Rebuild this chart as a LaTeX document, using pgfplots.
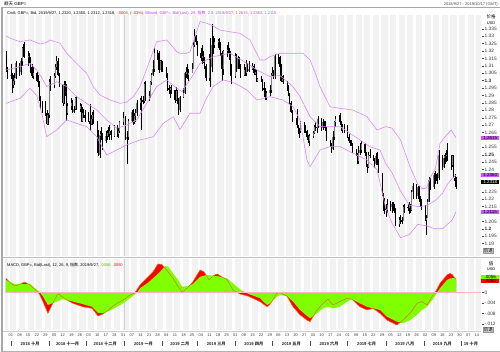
\documentclass[border=0pt]{standalone}
\usepackage{pgfplots}
\pgfplotsset{compat=1.18}
\usepackage{pgfplotstable}
\usepackage{fontspec}
\setmainfont{Liberation Sans}
\newfontfamily\cjk{Noto Sans CJK SC}
\definecolor{bband}{HTML}{D98CF5}
\definecolor{bbtext}{HTML}{C040F0}
\definecolor{stripe}{HTML}{F2F2F2}
\definecolor{mgreen}{HTML}{80FF00}
\definecolor{mline}{HTML}{D87010}
\definecolor{zline}{HTML}{FFB8B8}
\definecolor{pbox}{HTML}{CC55FF}
\definecolor{frame}{HTML}{A8A8A8}
\definecolor{mtext}{HTML}{55BB00}

\pgfplotstableread{
d o h l c
-4 1.3185 1.3200 1.3060 1.3075
-3 1.3075 1.3090 1.3010 1.3035
0 1.3035 1.3110 1.3010 1.3040
1 1.3040 1.3050 1.2920 1.2970
2 1.2970 1.3040 1.2950 1.3000
3 1.3000 1.3050 1.2970 1.3020
4 1.3020 1.3130 1.3010 1.3120
7 1.3120 1.3120 1.3030 1.3060
8 1.3060 1.3150 1.3040 1.3130
9 1.3130 1.3230 1.3100 1.3220
10 1.3220 1.3250 1.3160 1.3200
11 1.3200 1.3260 1.3150 1.3160
14 1.3160 1.3200 1.3100 1.3170
15 1.3170 1.3190 1.3110 1.3150
16 1.3150 1.3160 1.3050 1.3090
17 1.3090 1.3110 1.3020 1.3030
18 1.3030 1.3090 1.3010 1.3050
21 1.3050 1.3060 1.2990 1.3000
22 1.3000 1.3040 1.2960 1.2980
23 1.2980 1.3000 1.2860 1.2870
24 1.2870 1.2900 1.2810 1.2830
25 1.2830 1.2860 1.2780 1.2830
28 1.2830 1.2860 1.2760 1.2780
29 1.2780 1.2800 1.2700 1.2710
30 1.2710 1.2780 1.2700 1.2770
31 1.2770 1.3010 1.2750 1.2990
32 1.2990 1.3030 1.2930 1.2970
35 1.2970 1.3050 1.2950 1.3030
36 1.3030 1.3110 1.3020 1.3090
37 1.3090 1.3170 1.3070 1.3130
38 1.3130 1.3150 1.3030 1.3040
39 1.3040 1.3050 1.2960 1.2970
42 1.2970 1.2980 1.2830 1.2850
43 1.2850 1.3000 1.2840 1.2980
44 1.2980 1.3000 1.2900 1.2970
45 1.2970 1.2980 1.2730 1.2780
46 1.2780 1.2850 1.2770 1.2830
49 1.2830 1.2880 1.2800 1.2850
50 1.2850 1.2870 1.2780 1.2790
51 1.2790 1.2830 1.2780 1.2810
52 1.2810 1.2890 1.2800 1.2880
53 1.2880 1.2900 1.2800 1.2810
56 1.2810 1.2850 1.2790 1.2830
57 1.2830 1.2840 1.2720 1.2730
58 1.2730 1.2820 1.2720 1.2780
59 1.2780 1.2810 1.2750 1.2770
60 1.2770 1.2800 1.2720 1.2750
63 1.2750 1.2790 1.2720 1.2730
64 1.2730 1.2840 1.2660 1.2710
65 1.2710 1.2770 1.2700 1.2740
66 1.2740 1.2790 1.2700 1.2770
67 1.2770 1.2800 1.2710 1.2730
70 1.2730 1.2730 1.2510 1.2560
71 1.2560 1.2670 1.2490 1.2500
72 1.2500 1.2660 1.2480 1.2630
73 1.2630 1.2690 1.2600 1.2640
74 1.2640 1.2650 1.2530 1.2590
77 1.2590 1.2660 1.2580 1.2630
78 1.2630 1.2670 1.2600 1.2650
79 1.2650 1.2690 1.2620 1.2640
80 1.2640 1.2700 1.2600 1.2660
81 1.2660 1.2670 1.2600 1.2630
84 1.2630 1.2700 1.2620 1.2690
86 1.2690 1.2700 1.2620 1.2640
87 1.2640 1.2680 1.2610 1.2660
88 1.2660 1.2730 1.2650 1.2720
91 1.2720 1.2790 1.2700 1.2750
93 1.2750 1.2760 1.2600 1.2610
94 1.2610 1.2660 1.2440 1.2620
95 1.2620 1.2740 1.2600 1.2730
98 1.2730 1.2800 1.2720 1.2790
99 1.2790 1.2810 1.2700 1.2720
100 1.2720 1.2780 1.2710 1.2760
101 1.2760 1.2810 1.2720 1.2780
102 1.2780 1.2870 1.2760 1.2850
105 1.2850 1.2880 1.2800 1.2870
106 1.2870 1.2900 1.2670 1.2870
107 1.2870 1.2900 1.2840 1.2860
108 1.2860 1.2990 1.2850 1.2980
109 1.2980 1.3000 1.2860 1.2880
112 1.2880 1.2930 1.2860 1.2900
113 1.2900 1.3000 1.2880 1.2990
114 1.2990 1.3050 1.2970 1.3040
115 1.3040 1.3140 1.3030 1.3080
116 1.3080 1.3220 1.3060 1.3190
119 1.3190 1.3210 1.3140 1.3190
120 1.3190 1.3200 1.3050 1.3070
121 1.3070 1.3140 1.3070 1.3130
122 1.3130 1.3140 1.3060 1.3110
123 1.3110 1.3130 1.3060 1.3080
126 1.3080 1.3090 1.3020 1.3040
127 1.3040 1.3050 1.2930 1.2950
128 1.2950 1.2970 1.2910 1.2940
129 1.2940 1.2960 1.2880 1.2950
130 1.2950 1.2970 1.2910 1.2940
133 1.2940 1.2940 1.2850 1.2870
134 1.2870 1.2960 1.2860 1.2930
135 1.2930 1.2940 1.2840 1.2860
136 1.2860 1.2880 1.2770 1.2800
137 1.2800 1.2900 1.2790 1.2890
140 1.2890 1.2950 1.2880 1.2920
141 1.2920 1.3060 1.2910 1.3050
142 1.3050 1.3090 1.3020 1.3060
143 1.3060 1.3110 1.3010 1.3040
144 1.3040 1.3080 1.3000 1.3050
147 1.3050 1.3120 1.3050 1.3080
148 1.3080 1.3260 1.3080 1.3240
149 1.3240 1.3350 1.3230 1.3300
150 1.3300 1.3310 1.3240 1.3260
151 1.3260 1.3270 1.3170 1.3190
154 1.3190 1.3220 1.3130 1.3150
155 1.3150 1.3240 1.3110 1.3170
156 1.3170 1.3200 1.3120 1.3140
157 1.3140 1.3160 1.3080 1.3100
158 1.3100 1.3110 1.3000 1.3020
161 1.3020 1.3180 1.3000 1.3140
162 1.3140 1.3290 1.2960 1.3090
163 1.3090 1.3380 1.3060 1.3240
164 1.3240 1.3300 1.3180 1.3240
165 1.3240 1.3290 1.3220 1.3260
168 1.3260 1.3280 1.3220 1.3270
169 1.3270 1.3290 1.3210 1.3250
170 1.3250 1.3260 1.3170 1.3190
171 1.3190 1.3200 1.3000 1.3080
172 1.3080 1.3210 1.3040 1.3200
175 1.3200 1.3240 1.3160 1.3200
176 1.3200 1.3260 1.3190 1.3210
177 1.3210 1.3220 1.3140 1.3190
178 1.3190 1.3200 1.3030 1.3040
179 1.3040 1.3110 1.2980 1.3030
182 1.3030 1.3190 1.3020 1.3170
183 1.3170 1.3180 1.3060 1.3080
184 1.3080 1.3170 1.3080 1.3150
185 1.3150 1.3160 1.3080 1.3100
186 1.3100 1.3110 1.3020 1.3040
189 1.3040 1.3110 1.3030 1.3070
190 1.3070 1.3090 1.3030 1.3050
191 1.3050 1.3140 1.3030 1.3110
192 1.3110 1.3120 1.3060 1.3070
193 1.3070 1.3130 1.3060 1.3080
196 1.3080 1.3120 1.3070 1.3100
197 1.3100 1.3110 1.3040 1.3050
198 1.3050 1.3080 1.3040 1.3060
199 1.3060 1.3070 1.2990 1.3000
200 1.3000 1.3020 1.2990 1.3010
203 1.3010 1.3030 1.2990 1.3000
204 1.3000 1.3010 1.2930 1.2950
205 1.2950 1.2990 1.2920 1.2940
206 1.2940 1.2950 1.2870 1.2890
207 1.2890 1.2930 1.2870 1.2920
210 1.2920 1.2970 1.2900 1.2940
211 1.2940 1.3050 1.2920 1.3040
212 1.3040 1.3090 1.3030 1.3050
213 1.3050 1.3070 1.3010 1.3030
214 1.3030 1.3180 1.3010 1.3170
217 1.3170 1.3180 1.3110 1.3160
218 1.3160 1.3170 1.3080 1.3090
219 1.3090 1.3110 1.2990 1.3000
220 1.3000 1.3030 1.2990 1.3010
221 1.3010 1.3040 1.2980 1.3000
224 1.3000 1.3000 1.2930 1.2950
225 1.2950 1.2970 1.2900 1.2910
226 1.2910 1.2920 1.2840 1.2850
227 1.2850 1.2860 1.2780 1.2790
228 1.2790 1.2800 1.2720 1.2720
231 1.2720 1.2750 1.2700 1.2720
232 1.2720 1.2810 1.2680 1.2690
233 1.2690 1.2700 1.2640 1.2660
234 1.2660 1.2680 1.2610 1.2660
235 1.2660 1.2730 1.2650 1.2710
238 1.2710 1.2720 1.2650 1.2660
239 1.2660 1.2700 1.2650 1.2660
240 1.2660 1.2670 1.2600 1.2620
241 1.2620 1.2630 1.2580 1.2590
242 1.2590 1.2640 1.2560 1.2630
245 1.2630 1.2660 1.2610 1.2650
246 1.2650 1.2700 1.2640 1.2690
247 1.2690 1.2720 1.2660 1.2690
248 1.2690 1.2710 1.2650 1.2680
249 1.2680 1.2760 1.2680 1.2740
252 1.2740 1.2750 1.2660 1.2680
253 1.2680 1.2740 1.2670 1.2720
254 1.2720 1.2730 1.2680 1.2700
255 1.2700 1.2730 1.2660 1.2670
256 1.2670 1.2690 1.2590 1.2590
259 1.2590 1.2600 1.2550 1.2560
260 1.2560 1.2580 1.2510 1.2540
261 1.2540 1.2660 1.2530 1.2620
262 1.2620 1.2730 1.2600 1.2720
263 1.2720 1.2760 1.2690 1.2740
266 1.2740 1.2770 1.2720 1.2740
267 1.2740 1.2780 1.2700 1.2710
268 1.2710 1.2730 1.2660 1.2670
269 1.2670 1.2710 1.2650 1.2690
270 1.2690 1.2710 1.2650 1.2690
273 1.2690 1.2700 1.2610 1.2620
274 1.2620 1.2640 1.2580 1.2590
275 1.2590 1.2600 1.2560 1.2580
276 1.2580 1.2600 1.2560 1.2570
277 1.2570 1.2580 1.2510 1.2520
280 1.2520 1.2540 1.2490 1.2500
281 1.2500 1.2510 1.2440 1.2460
282 1.2460 1.2560 1.2440 1.2510
283 1.2510 1.2580 1.2500 1.2530
284 1.2530 1.2590 1.2510 1.2570
287 1.2570 1.2580 1.2490 1.2510
288 1.2510 1.2520 1.2420 1.2430
289 1.2430 1.2440 1.2380 1.2420
290 1.2420 1.2520 1.2410 1.2500
291 1.2500 1.2540 1.2480 1.2490
294 1.2490 1.2500 1.2460 1.2470
295 1.2470 1.2480 1.2410 1.2440
296 1.2440 1.2510 1.2430 1.2490
297 1.2490 1.2520 1.2430 1.2450
298 1.2450 1.2470 1.2380 1.2380
301 1.2380 1.2380 1.2220 1.2230
302 1.2230 1.2240 1.2120 1.2170
303 1.2170 1.2210 1.2100 1.2150
304 1.2150 1.2170 1.2080 1.2130
305 1.2130 1.2200 1.2110 1.2160
308 1.2160 1.2190 1.2120 1.2150
309 1.2150 1.2180 1.2110 1.2170
310 1.2170 1.2180 1.2120 1.2140
311 1.2140 1.2170 1.2110 1.2140
312 1.2140 1.2140 1.2020 1.2030
315 1.2030 1.2080 1.2010 1.2060
316 1.2060 1.2090 1.2030 1.2060
317 1.2060 1.2080 1.2030 1.2050
318 1.2050 1.2160 1.2050 1.2150
319 1.2150 1.2170 1.2110 1.2150
322 1.2150 1.2170 1.2120 1.2140
323 1.2140 1.2180 1.2100 1.2160
324 1.2160 1.2170 1.2110 1.2130
325 1.2130 1.2260 1.2120 1.2250
326 1.2250 1.2310 1.2200 1.2290
329 1.2290 1.2300 1.2200 1.2220
330 1.2220 1.2290 1.2200 1.2280
331 1.2280 1.2290 1.2180 1.2210
332 1.2210 1.2220 1.2150 1.2170
333 1.2170 1.2200 1.2130 1.2160
336 1.2160 1.2160 1.2050 1.2060
337 1.2060 1.2090 1.1960 1.2070
338 1.2070 1.2200 1.2070 1.2180
339 1.2180 1.2350 1.2180 1.2330
340 1.2330 1.2340 1.2260 1.2280
343 1.2280 1.2380 1.2270 1.2360
344 1.2360 1.2390 1.2300 1.2350
345 1.2350 1.2370 1.2320 1.2340
346 1.2340 1.2380 1.2300 1.2340
347 1.2340 1.2530 1.2330 1.2500
350 1.2500 1.2500 1.2400 1.2420
351 1.2420 1.2500 1.2410 1.2480
352 1.2480 1.2510 1.2440 1.2490
353 1.2490 1.2530 1.2450 1.2500
354 1.2500 1.2580 1.2460 1.2480
357 1.2480 1.2500 1.2400 1.2430
358 1.2430 1.2500 1.2420 1.2490
359 1.2490 1.2500 1.2340 1.2340
360 1.2340 1.2370 1.2280 1.2320
361 1.2320 1.2350 1.2270 1.2318
}\prices

\newcommand{\fs}[1]{\fontsize{#1}{#1}\selectfont}
\pgfplotsset{panel/.style={anchor=south west, at={(0,0)}, scale only axis,
  xmin=-4.81, xmax=381.27, xtick=\empty, ytick=\empty, axis line style={draw=none}, clip=true}}

\begin{document}
\begin{tikzpicture}[x=1pt,y=1pt]
\path[use as bounding box] (0,0) rectangle (500,352);
\fill[white] (0,0) rectangle (500,352);
\begin{scope}[shift={(0,352)},yscale=-1]
  \begin{scope}
    \clip (5,15) rectangle (481,256) (5,259) rectangle (481,330);
    \foreach \w in {-1,...,54}{
      \pgfmathsetmacro\xa{10.93+1.2329*(7*\w-0.5)}
      \pgfmathsetmacro\xb{10.93+1.2329*(7*\w+4.5)}
      \fill[stripe] (\xa,15) rectangle (\xb,330);
    }
  \end{scope}
  \draw[black!18, line width=0.5pt] (124.4,15) -- (124.4,256) (124.4,259) -- (124.4,330);
  \draw[frame, line width=1.5pt] (2,7) -- (2,352);
  \draw[frame, line width=0.8pt] (2,7.5) -- (500,7.5);
  \draw[black!25, line width=0.5pt] (3,257.5) -- (500,257.5);
  \draw[black!20, line width=0.5pt] (3,331) -- (481,331);
  \draw[black!30, line width=1pt] (3,351.5) -- (500,351.5);
\end{scope}

% ---------- price panel ----------
\begin{scope}[shift={(5,96)}]
\begin{axis}[panel, width=476pt, height=241pt, ymin=1.181634, ymax=1.344362]
  \addplot[draw=none, mark=none, error bars/.cd, y dir=both, y explicit, error mark=none,
    error bar style={draw=black, solid, line width=0.35pt}]
    table[x=d, y expr={(\thisrow{h}+\thisrow{l})/2}, y error expr={(\thisrow{h}-\thisrow{l})/2}] {\prices};
  \addplot[draw=none, mark=none, restrict expr to domain={\thisrow{c}-\thisrow{o}}{0:1},
    error bars/.cd, y dir=both, y explicit, error mark=none,
    error bar style={draw=black!50, solid, line width=0.9pt}]
    table[x=d, y expr={(\thisrow{o}+\thisrow{c})/2}, y error expr={abs(\thisrow{c}-\thisrow{o})/2}] {\prices};
  \addplot[draw=none, mark=none, restrict expr to domain={\thisrow{o}-\thisrow{c}}{0.00001:1},
    error bars/.cd, y dir=both, y explicit, error mark=none,
    error bar style={draw=black, solid, line width=0.9pt}]
    table[x=d, y expr={(\thisrow{o}+\thisrow{c})/2}, y error expr={abs(\thisrow{c}-\thisrow{o})/2}] {\prices};
  \addplot[bband, line width=0.6pt, mark=none] coordinates {
  (-4,1.3302) (0,1.3285) (7.4,1.3263) (15.5,1.3275) (23.6,1.3248) (29,1.3258) (31.7,1.3275)
  (39.8,1.3253) (45.2,1.3185) (53.3,1.3117) (61.4,1.3050) (66.8,1.2960) (72.3,1.2903)
  (80.4,1.2870) (88.5,1.2847) (93.9,1.2855) (99.3,1.2892) (104.7,1.2960) (108.8,1.3050)
  (112.8,1.3140) (118.2,1.3263) (126.4,1.3275) (134.5,1.3196) (137.1,1.3185) (142.6,1.3185)
  (145.2,1.3195) (149,1.3290) (153.4,1.3400) (159,1.3387) (164,1.3370) (169.6,1.3342)
  (177.7,1.3330) (185.8,1.3320) (193.9,1.3275) (202,1.3140) (206,1.3140) (210.1,1.3162)
  (218.2,1.3185) (228.8,1.3185) (236.9,1.3185) (242.6,1.3140) (246.5,1.3060) (250.7,1.2960)
  (258.8,1.2824) (266.9,1.2813) (277.4,1.2802) (288.8,1.2757) (296.9,1.2667) (304,1.2690)
  (309,1.2680) (316,1.2600) (323.7,1.2419) (330,1.2300) (334,1.2270) (337,1.2275)
  (341,1.2360) (344,1.2400) (346,1.2480) (348,1.2577) (352,1.2620) (357,1.2667) (361,1.2615)};
  \addplot[bband, line width=0.6pt, mark=none] coordinates {
  (-4,1.3072) (7.4,1.3095) (15.5,1.3117) (20.9,1.3072) (25,1.3020) (29,1.2960) (33,1.2975)
  (37.1,1.2993) (45.2,1.2960) (53.3,1.2892) (61.4,1.2847) (69.6,1.2802) (77.7,1.2735)
  (85.8,1.2679) (93.9,1.2700) (102,1.2735) (110.1,1.2847) (118.2,1.2960) (126.4,1.3005)
  (134.5,1.2949) (138.5,1.2926) (145.2,1.3005) (153.4,1.3117) (164,1.3162) (177.7,1.3185)
  (191.5,1.3117) (199.6,1.3072) (210.1,1.3027) (218.2,1.3035) (228.8,1.2960) (234.5,1.2892)
  (242.6,1.2757) (250.7,1.2690) (258.8,1.2690) (266.9,1.2690) (275,1.2645) (283.1,1.2600)
  (291.2,1.2554) (299.3,1.2532) (304,1.2440) (309,1.2380) (316,1.2256) (323,1.2160)
  (330,1.2150) (337,1.2155) (344,1.2190) (350,1.2240) (354,1.2300) (358,1.2340) (361,1.2363)};
  \addplot[bband, line width=0.6pt, mark=none] coordinates {
  (-4,1.2847) (7.4,1.2881) (15.5,1.2949) (20.9,1.2900) (25,1.2780) (29,1.2622) (37.1,1.2667)
  (45.2,1.2735) (53.3,1.2712) (61.4,1.2690) (69.6,1.2622) (77.7,1.2498) (85.8,1.2532)
  (93.9,1.2566) (104.7,1.2600) (110.1,1.2610) (115.5,1.2622) (123.6,1.2712) (131.7,1.2757)
  (137.1,1.2670) (145.2,1.2780) (153.4,1.2780) (158,1.2870) (164,1.2960) (172,1.3005)
  (180.1,1.2990) (191.5,1.2937) (199.6,1.2870) (210.1,1.2892) (220.6,1.2870) (228.8,1.2824)
  (234.5,1.2735) (240.1,1.2465) (242.6,1.2419) (250.7,1.2532) (258.8,1.2555) (266.9,1.2555)
  (277.4,1.2510) (288.8,1.2465) (296.9,1.2400) (304,1.2140) (309,1.2040) (316,1.1940)
  (323,1.1960) (330,1.2030) (337,1.2020) (344,1.2000) (350,1.2000) (354,1.2030) (358,1.2060)
  (361,1.2115)};
\end{axis}
\end{scope}

% ---------- MACD panel (values in 1/1000) ----------
\begin{scope}[shift={(5,22)}]
\begin{axis}[panel, width=476pt, height=71pt, ymin=-14.291, ymax=12.912]
  \addplot[fill=red, draw=none] coordinates {
  (-4,0) (-4,5.5) (0,3.5) (3.3,2.6) (7,3.2) (9.8,3.8) (11.4,4.0) (15.5,3.0) (19.5,1.3) (22.8,-0.3)
  (26,-3.4) (30,-7.9) (33.3,-4.7) (37.4,-0.9) (39,-0.5) (41.4,-1.5) (45.5,-2.8) (50.4,-4.1)
  (58.4,-5.4) (65.8,-6.0) (70.6,-8.9) (74.7,-8.2) (80.4,-6.0) (86,-4.1) (91,-2.8) (96.6,-0.9)
  (100.6,0) (104.7,3.0) (111.2,6.1) (115.2,8.0) (119.3,11.0) (122.5,10.8) (126.6,8.5)
  (131.5,5.5) (135.5,2.5) (138.8,0.2) (142.8,1.7) (147.6,4.2) (153.4,8.7) (156.6,8.0)
  (160.7,4.9) (164,6.5) (167.2,7.2) (171.2,6.0) (175.3,5.0) (180.1,1.0) (185.8,-0.5)
  (192.3,-1.3) (202,-3.4) (207.7,-5.4) (210.1,-4.5) (215.8,-0.2) (218.2,0.0) (223.9,-1.3)
  (228.8,-5.4) (234.5,-8.5) (240.1,-10.5) (242.6,-11.1) (248.3,-6.6) (253.1,-4.1) (257.2,-2.5)
  (261.2,-4.7) (266.9,-3.4) (272.6,-2.1) (276.6,-2.5) (283.1,-5.4) (288.8,-6.6) (293.7,-6.0)
  (299.3,-7.9) (305,-10.5) (313.1,-12.4) (318,-10.5) (323.7,-7.9) (329.4,-4.1) (333.4,-3.4)
  (337.5,-4.7) (342.3,-0.9) (345,0.8) (348,3.6) (353.7,6.8) (356.2,7.4) (357.8,7.0) (361,5.0) (361,0)};
  \addplot[fill=mgreen, draw=none] coordinates {
  (-4,0) (-4,4.9) (3.3,3.3) (9.8,3.3) (15.5,3.3) (19.5,1.7) (22.8,0.5) (26,-1.5) (30,-4.7)
  (33.3,-4.1) (37.4,-3.4) (41.4,-2.5) (45.5,-2.8) (50.4,-3.4) (58.4,-4.4) (65.8,-5.4)
  (70.6,-7.7) (74.7,-7.9) (80.4,-6.9) (86,-5.4) (91,-4.1) (96.6,-2.1) (102.3,0) (104.7,1.7)
  (111.2,3.8) (115.2,5.5) (121,8.0) (125,10.2) (127.5,10.0) (131.5,7.4) (135.5,5.0)
  (138.8,2.3) (142.8,2.5) (147.6,3.3) (153.4,6.1) (159,6.8) (167.2,6.4) (175.3,5.5)
  (180.1,3.6) (185.8,1.3) (192.3,-0.4) (202,-2.1) (207.7,-4.7) (210.1,-4.1) (215.8,-1.5)
  (218.2,-0.9) (223.9,-1.3) (228.8,-3.4) (234.5,-6.6) (240.1,-8.9) (242.6,-9.8) (248.3,-7.9)
  (253.1,-6.0) (257.2,-5.4) (261.2,-6.0) (266.9,-5.4) (272.6,-3.4) (276.6,-2.5) (283.1,-4.1)
  (288.8,-5.4) (293.7,-6.0) (299.3,-6.6) (305,-9.2) (313.1,-11.1) (318,-11.7) (323.7,-10.5)
  (329.4,-8.5) (333.4,-6.6) (337.5,-5.4) (342.3,-2.5) (345.6,0) (348,1.7) (353.7,4.9)
  (356.2,5.5) (361,5.6) (361,0)};
  \addplot[mline, line width=0.5pt, mark=none] coordinates {
  (-4,5.5) (0,3.5) (3.3,2.6) (7,3.2) (9.8,3.8) (11.4,4.0) (15.5,3.0) (19.5,1.3) (22.8,-0.3)
  (26,-3.4) (30,-7.9) (33.3,-4.7) (37.4,-0.9) (39,-0.5) (41.4,-1.5) (45.5,-2.8) (50.4,-4.1)
  (58.4,-5.4) (65.8,-6.0) (70.6,-8.9) (74.7,-8.2) (80.4,-6.0) (86,-4.1) (91,-2.8) (96.6,-0.9)
  (100.6,0) (104.7,3.0) (111.2,6.1) (115.2,8.0) (119.3,11.0) (122.5,10.8) (126.6,8.5)
  (131.5,5.5) (135.5,2.5) (138.8,0.2) (142.8,1.7) (147.6,4.2) (153.4,8.7) (156.6,8.0)
  (160.7,4.9) (164,6.5) (167.2,7.2) (171.2,6.0) (175.3,5.0) (180.1,1.0) (185.8,-0.5)
  (192.3,-1.3) (202,-3.4) (207.7,-5.4) (210.1,-4.5) (215.8,-0.2) (218.2,0.0) (223.9,-1.3)
  (228.8,-5.4) (234.5,-8.5) (240.1,-10.5) (242.6,-11.1) (248.3,-6.6) (253.1,-4.1) (257.2,-2.5)
  (261.2,-4.7) (266.9,-3.4) (272.6,-2.1) (276.6,-2.5) (283.1,-5.4) (288.8,-6.6) (293.7,-6.0)
  (299.3,-7.9) (305,-10.5) (313.1,-12.4) (318,-10.5) (323.7,-7.9) (329.4,-4.1) (333.4,-3.4)
  (337.5,-4.7) (342.3,-0.9) (345,0.8) (348,3.6) (353.7,6.8) (356.2,7.4) (357.8,7.0) (361,5.0)};
\end{axis}
\end{scope}

\begin{scope}[shift={(0,352)},yscale=-1]
  \draw[zline, line width=1.5pt] (5,292.7) -- (481,292.7);
  \node[anchor=west, inner sep=0pt, font=\fs{4.5}] at (4,3.6) {{\cjk 顺天} GBP=};
  \node[anchor=east, inner sep=0pt, font=\fs{4}, text=black!70] at (498,4.3) {2018/9/27 - 2019/10/17 (GMT)};
  \node[anchor=west, inner sep=0pt, font=\fs{4}] at (7,12.8) {Cndl, GBP=, Bid, 2019/9/27, 1.2320, 1.2350, 1.2312, 1.2318, \textcolor{red}{-.0004, (-.03\%),} \textcolor{bbtext}{BBand, GBP=, Bid(Last), 20, {\cjk 指数}, 2.0, 2019/9/27, 1.2615, 1.2363, 1.2115}};
  \node[anchor=west, inner sep=0pt, font=\fs{4}] at (7,265.5) {MACD, GBP=, Bid(Last), 12, 26, 9, {\cjk 指数}, 2019/9/27, \textcolor{mtext}{.0056,} \textcolor{red}{.0050}};
  \node[font=\fs{4.5}\cjk, inner sep=0pt] at (491,17.3) {价格};
  \node[font=\fs{4}, inner sep=0pt] at (491,23.2) {USD};
  \foreach \p/\t in {1.335/1.335,1.33/1.33,1.325/1.325,1.32/1.32,1.315/1.315,1.31/1.31,1.305/1.305,1.3/\textbf{1.3},1.295/1.295,1.29/1.29,1.285/1.285,1.28/1.28,1.275/1.275,1.27/1.27,1.265/1.265,1.255/1.255,1.25/\textbf{1.25},1.245/1.245,1.24/1.24,1.225/1.225,1.22/1.22,1.215/1.215,1.205/1.205,1.2/\textbf{1.2},1.195/1.195,1.19/1.19}{
    \pgfmathsetmacro\yy{80.7+(1.3-\p)*1481}
    \draw[black!70, line width=0.4pt] (481.5,\yy) -- (483.5,\yy);
    \node[anchor=west, inner sep=0pt, font=\fs{4.8}, text=black!80] at (484.5,\yy) {\t};
  }
  \node[anchor=west, fill=pbox, inner sep=0.5pt, minimum width=18pt, font=\fs{4.5}] at (481,137.7) {1.2615};
  \node[anchor=west, fill=pbox, inner sep=0.5pt, minimum width=18pt, font=\fs{4.5}] at (481,175.0) {1.2363};
  \node[anchor=west, fill=black, text=white, inner sep=0.5pt, minimum width=18pt, font=\fs{4.5}] at (481,181.9) {1.2318};
  \node[anchor=west, fill=pbox, inner sep=0.5pt, minimum width=18pt, font=\fs{4.5}] at (481,211.8) {1.2115};
  \node[anchor=west, fill=black!15, draw=black!40, inner sep=0.6pt, font=\fs{4.5}\cjk] at (483,251) {后退};
  \node[font=\fs{4.5}\cjk, inner sep=0pt] at (491,263.8) {值};
  \node[font=\fs{4}, inner sep=0pt] at (491,269.5) {USD};
  \node[anchor=west, fill=mgreen, inner sep=0.5pt, minimum width=18pt, font=\fs{4.5}] at (481,277.2) {.0056};
  \node[anchor=west, fill=red, inner sep=0.5pt, minimum width=18pt, font=\fs{4.5}] at (481,281.4) {.0050};
  \foreach \v/\t in {0/0,-4/-.004,-8/-.008,-12/-.012}{
    \pgfmathsetmacro\yy{292.7-2.61*\v}
    \draw[black!70, line width=0.4pt] (481.5,\yy) -- (483.5,\yy);
    \node[anchor=west, inner sep=0pt, font=\fs{4.8}, text=black!80] at (484.5,\yy) {\t};
  }
  \node[anchor=west, fill=black!15, draw=black!40, inner sep=0.6pt, font=\fs{4.5}\cjk] at (483,329.5) {后退};
  \foreach \d/\t in {0/01,7/08,14/15,21/22,28/29,35/05,42/12,49/19,56/26,63/03,70/10,77/17,84/24,91/31,98/07,105/14,112/21,119/28,126/04,133/11,140/18,147/25,154/04,161/11,168/18,175/25,182/01,189/08,196/15,203/22,210/29,217/06,224/13,231/20,238/27,245/03,252/10,259/17,266/24,273/01,280/08,287/15,294/22,301/29,308/05,315/12,322/19,329/26,336/02,343/09,350/16,357/23,364/30,371/07,378/14}{
    \node[inner sep=0pt, font=\fs{4}, text=black!75] at ({10.93+1.2329*\d},335.6) {\t};
  }
  \foreach \d in {0,31,61,92,123,151,182,212,243,273,304,335,365}{
    \draw[black!70, line width=0.4pt] ({10.93+1.2329*\d},341.5) -- ({10.93+1.2329*\d},346);
  }
  \foreach \a/\b/\y/\m in {0/31/2018/十月,31/61/2018/十一月,61/92/2018/十二月,92/123/2019/一月,123/151/2019/二月,151/182/2019/三月,182/212/2019/四月,212/243/2019/五月,243/273/2019/六月,273/304/2019/七月,304/335/2019/八月,335/365/2019/九月,365/381.27/19/十月}{
    \node[inner sep=0pt, font=\fs{4.2}\bfseries, text=black!85] at ({10.93+1.2329*(\a+\b)/2},343.8) {\y\ {\cjk\m}};
  }
\end{scope}
\end{tikzpicture}
\end{document}
